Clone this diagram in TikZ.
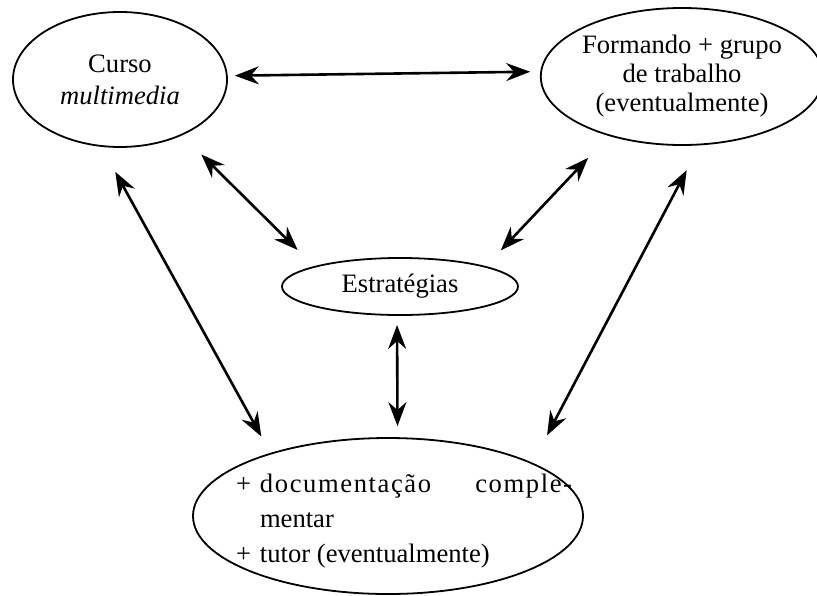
\documentclass[tikz,border=0pt]{standalone}
\usepackage{fontspec}
\setmainfont{Liberation Serif}
\usetikzlibrary{shapes.geometric,arrows.meta}

\begin{document}
\begin{tikzpicture}[x=0.5pt,y=-0.5pt]
\tikzstyle{every node}+=[inner sep=0pt, outer sep=0pt, font=\fontsize{13.3}{14.5}\selectfont]
\tikzstyle{oval}=[draw, ellipse, line width=0.9pt]
\tikzstyle{link}=[{Stealth[length=12pt,width=9pt,inset=4pt]}-{Stealth[length=12pt,width=9pt,inset=4pt]}, line width=1.3pt]
\useasboundingbox (0,0) rectangle (817,595);
\node [oval, minimum width=107pt, minimum height=67.5pt, align=center] (curso) at (120,79.5) {Curso\\[1.5pt]\textit{multimedia}};
\node [oval, minimum width=134pt, minimum height=68.5pt, align=center] (formando) at (682,76.5) {Formando + grupo\\de trabalho\\(eventualmente)};
\node [oval, minimum width=118pt, minimum height=28.5pt] (estrat) at (400,286.5) {Estratégias};
\node [oval, minimum width=195pt, minimum height=78pt] (doc) at (388,516) {};
\node [align=left, anchor=west, font=\fontsize{13.3}{17.5}\selectfont] (doctxt) at (236,521)
  {\makebox[12pt][l]{+}\makebox[156pt]{\addfontfeature{LetterSpace=6}documentação\hfill comple-}\\
   \hspace*{12pt}mentar\\
   \makebox[12pt][l]{+}tutor (eventualmente)};
\draw [link, shorten <=4pt, shorten >=5.5pt] (curso.2.4) -- (formando.178.7);
\draw [link, shorten <=14pt, shorten >=12pt] (curso.-42.3) -- (estrat.167.2);
\draw [link, shorten <=15.5pt, shorten >=11.3pt] (formando.219.2) -- (estrat.13.6);
\draw [link, shorten <=5pt, shorten >=6pt] (estrat.-96) -- (doc.83.4);
\draw [link, shorten <=14.8pt, shorten >=9.8pt] (curso.-106.1) -- (doc.152.5);
\draw [link, shorten <=14.5pt, shorten >=15.9pt] (formando.-75.4) -- (doc.20.3);
\end{tikzpicture}
\end{document}
